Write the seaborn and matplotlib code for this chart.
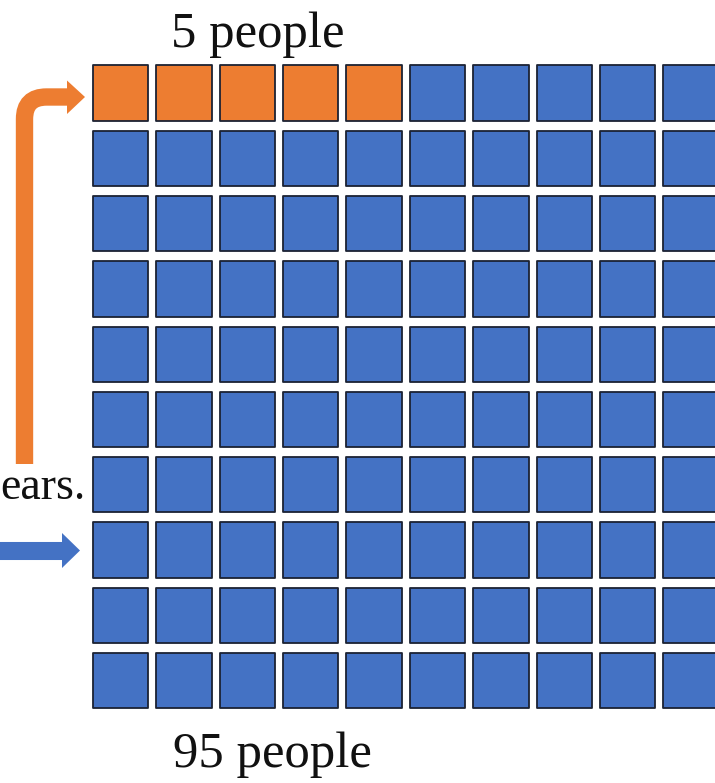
import numpy as np
import pandas as pd
import matplotlib
matplotlib.use("Agg")
import matplotlib.pyplot as plt
from matplotlib.path import Path
from matplotlib.patches import PathPatch, Polygon
import seaborn as sns

# Waffle data: 100 people split into two groups
groups = ["5 people", "95 people"]
counts = [5, 95]
group_colors = ["#ED7D31", "#4472C4"]
side_note = "ears."
n_cols = 10
n_rows = 10

sns.set_theme(style="white")
plt.rcParams["font.family"] = ["Liberation Serif", "DejaVu Serif"]

# One row per cell, filled row by row from the top-left
labels = np.repeat(groups, counts)
cells = pd.DataFrame({
    "col": np.arange(len(labels)) % n_cols,
    "row": np.arange(len(labels)) // n_cols,
    "group": labels,
})

W, H = 715, 783
fig = plt.figure(figsize=(W / 100, H / 100), dpi=100)

# Grid axes in figure pixels
gx0, gx1 = 88.8, 722.8
gy0, gy1 = 60.35, 713.35
ax = fig.add_axes([gx0 / W, 1 - gy1 / H, (gx1 - gx0) / W, (gy1 - gy0) / H])
sns.scatterplot(
    data=cells, x="col", y="row", hue="group",
    palette=dict(zip(groups, group_colors)),
    marker="s", s=1580, edgecolor="#1b2233", linewidth=1.3,
    legend=False, ax=ax,
)
ax.set_xlim(-0.5, n_cols - 0.5)
ax.set_ylim(n_rows - 0.5, -0.5)
ax.set_axis_off()

# Overlay in pixel coordinates for labels and arrows
ov = fig.add_axes([0, 0, 1, 1], zorder=3)
ov.set_xlim(0, W)
ov.set_ylim(H, 0)
ov.set_axis_off()
ov.patch.set_alpha(0)

ov.text(258, 47, groups[0], ha="center", va="baseline", fontsize=36.5, color="#111111")
ov.text(272, 767, groups[1], ha="center", va="baseline", fontsize=36.5, color="#111111")
ov.text(0.5, 499, side_note, ha="left", va="baseline", fontsize=33, color="#111111")

# Bent orange arrow pointing at the top row
r = 22
verts = [(24.5, 464), (24.5, 97 + r), (24.5, 97), (24.5 + r, 97), (68, 97)]
codes = [Path.MOVETO, Path.LINETO, Path.CURVE3, Path.CURVE3, Path.LINETO]
ov.add_patch(PathPatch(Path(verts, codes), fill=False, edgecolor=group_colors[0],
                       linewidth=12.5, capstyle="butt", joinstyle="miter"))
ov.add_patch(Polygon([(67, 80.5), (85, 97), (67, 114)], closed=True,
                     facecolor=group_colors[0], edgecolor="none"))

# Straight blue arrow
ov.plot([-5, 63], [551, 551], color=group_colors[1], linewidth=13, solid_capstyle="butt")
ov.add_patch(Polygon([(62, 533), (80, 550.5), (62, 568)], closed=True,
                     facecolor=group_colors[1], edgecolor="none"))

fig.savefig("out.png", dpi=100, facecolor="white")
